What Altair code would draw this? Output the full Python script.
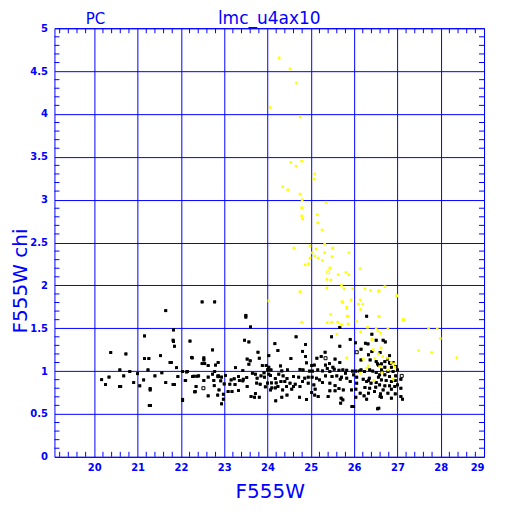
import altair as alt
import pandas as pd
import numpy as np

BLUE = "#0000ff"

# ---- black points (F555W, chi) ----
black_x = [
    21.65, 21.16, 21.83, 21.82, 21.83, 21.85, 20.38, 20.73, 21.16, 21.26, 21.53, 21.75, 21.78,
    20.59, 20.82, 21.00, 21.24, 21.56, 21.90, 22.13, 22.25, 22.21, 22.04, 22.04, 22.33, 22.35,
    22.11, 21.93, 22.27, 22.37, 20.17, 20.34, 20.68, 20.26, 20.58, 20.61, 20.91, 21.05, 21.14,
    21.29, 21.29, 21.40, 21.65, 21.82, 21.85, 21.27, 21.30,
    22.49, 22.78, 23.50, 23.50, 23.61, 23.47, 23.57, 22.73, 23.78, 22.26, 22.53, 22.53, 23.53,
    23.60, 23.81, 22.49, 22.55, 22.80, 22.86, 22.63, 23.57, 23.88, 23.97, 23.26, 22.04, 22.15,
    22.78, 23.43, 23.65, 23.92, 24.01, 22.30, 22.41, 22.63, 22.73, 22.87, 22.94, 23.03, 22.10,
    22.53, 22.76, 22.92, 23.16, 23.23, 23.33, 23.35, 23.44, 23.52, 23.72, 23.76, 23.85, 23.93,
    24.03, 22.77, 23.13, 23.00, 23.25, 23.43, 23.53, 23.75, 23.83, 23.95, 24.00, 22.32, 22.88,
    23.09, 23.18, 23.33, 22.63, 22.85, 22.98, 23.62, 23.70, 23.81, 23.72, 22.98, 22.94,
    25.67, 24.66, 25.48, 24.17, 24.88, 25.67, 24.24, 24.81, 25.33, 24.03, 24.54, 24.88, 25.24,
    25.14, 25.56, 25.67, 25.43, 24.90, 25.02, 25.08, 25.34, 25.51, 24.30, 24.03, 24.01, 24.08,
    24.33, 24.46, 24.75, 24.82, 24.97, 25.04, 25.16, 25.27, 25.38, 25.44, 25.54, 25.65, 24.07,
    24.18, 24.26, 24.36, 24.45, 24.60, 24.72, 24.86, 24.94, 25.03, 25.13, 25.20, 25.34, 25.49,
    25.60, 25.68, 24.09, 24.20, 24.31, 24.40, 24.52, 24.64, 24.81, 24.94, 25.07, 25.27, 25.44,
    25.56, 24.10, 24.18, 24.24, 24.44, 24.60, 24.75, 24.07, 24.35, 24.56, 25.10, 25.44, 25.56,
    25.65, 25.02, 25.09, 25.17, 24.33, 24.45, 24.74, 24.90, 24.19, 25.40, 25.70, 25.69,
    26.29, 25.91, 26.03, 26.26, 26.32, 26.41, 26.51, 26.16, 26.41, 26.33, 26.60, 26.16, 26.37,
    26.51, 26.56, 25.74, 25.83, 25.96, 26.04, 26.12, 26.16, 26.24, 26.36, 26.43, 25.80, 25.99,
    26.51, 25.71, 25.83, 26.06, 26.21, 26.35, 26.56, 25.91, 26.06, 26.29, 26.33, 26.39, 26.51,
    25.75, 25.94, 26.04, 26.25, 26.36, 26.50, 26.14, 26.33, 26.47, 25.74, 26.04, 26.23, 26.29,
    26.60, 25.99, 26.54, 25.95,
    26.67, 26.72, 26.82, 26.77, 26.71, 26.63, 26.82, 26.90, 26.71, 26.86, 26.96, 27.00, 26.63,
    26.78, 26.90, 26.59, 26.71, 26.82, 26.96, 27.08, 26.63, 26.74, 26.86, 26.95, 26.59, 26.71,
    26.82, 26.94, 27.00, 26.67, 26.86, 27.08, 26.61, 26.78, 26.95, 27.08, 27.12, 26.57, 26.63,
    26.86, 26.54, 26.64, 26.83,
]
black_y = [
    1.705, 1.41, 1.48, 1.36, 1.345, 1.29, 1.216, 1.20, 1.146, 1.146, 1.18, 1.10, 1.10,
    1.014, 0.995, 0.97, 1.014, 0.98, 1.04, 0.99, 1.16, 1.35, 0.656, 0.67, 0.76, 0.82,
    0.889, 0.936, 0.936, 0.94, 0.90, 0.93, 0.944, 0.843, 0.82, 0.82, 0.866, 0.828, 0.897,
    0.796, 0.78, 0.944, 0.866, 0.843, 0.843, 0.598, 0.598,
    1.807, 1.807, 1.65, 1.63, 1.515, 1.36, 1.34, 1.247, 1.22, 1.154, 1.154, 1.13, 1.14,
    1.12, 1.15, 1.087, 1.087, 1.07, 1.10, 1.064, 1.08, 1.064, 1.064, 1.04, 0.995, 0.995,
    0.995, 1.006, 0.975, 0.98, 1.02, 0.94, 0.944, 0.93, 0.964, 0.94, 0.93, 0.95, 0.89,
    0.89, 0.89, 0.886, 0.897, 0.91, 0.936, 0.89, 0.905, 0.925, 0.964, 0.917, 0.944, 0.929,
    0.964, 0.83, 0.847, 0.85, 0.843, 0.886, 0.82, 0.86, 0.847, 0.816, 0.86, 0.758, 0.78,
    0.761, 0.761, 0.773, 0.711, 0.72, 0.73, 0.703, 0.695, 0.695, 0.738, 0.672, 0.618,
    1.51, 1.40, 1.40, 1.32, 1.31, 1.29, 1.24, 1.23, 1.22, 1.18, 1.146, 1.17, 1.17,
    1.15, 1.14, 1.10, 1.087, 1.096, 1.064, 1.07, 1.07, 1.045, 1.06, 1.045, 1.014, 1.014,
    1.002, 1.014, 1.02, 1.014, 1.00, 1.00, 1.014, 1.002, 1.03, 0.995, 1.022, 1.01, 0.948,
    0.913, 0.964, 0.944, 0.913, 0.936, 0.929, 0.917, 0.929, 0.929, 0.917, 0.897, 0.944, 0.936,
    0.944, 0.905, 0.862, 0.862, 0.878, 0.878, 0.859, 0.847, 0.878, 0.859, 0.839, 0.866, 0.859,
    0.83, 0.804, 0.804, 0.82, 0.82, 0.82, 0.82, 0.78, 0.78, 0.789, 0.789, 0.77, 0.77,
    0.796, 0.75, 0.72, 0.703, 0.695, 0.72, 0.695, 0.668, 0.653, 0.703, 0.684, 0.626,
    1.64, 1.37, 1.33, 1.325, 1.317, 1.43, 1.36, 1.255, 1.227, 1.19, 1.216, 1.13, 1.13,
    1.11, 1.07, 1.014, 1.01, 1.00, 1.00, 1.00, 1.014, 0.995, 1.014, 1.00, 0.975, 0.956,
    0.983, 0.929, 0.917, 0.929, 0.905, 0.917, 0.929, 0.878, 0.859, 0.878, 0.89, 0.859, 0.866,
    0.78, 0.78, 0.789, 0.808, 0.80, 0.812, 0.742, 0.742, 0.761, 0.664, 0.695, 0.711, 0.672,
    0.703, 0.586, 0.56, 0.586,
    1.36, 1.34, 1.18, 1.14, 1.11, 1.084, 1.10, 1.10, 1.045, 1.045, 1.052, 1.014, 1.014,
    0.995, 0.995, 0.956, 0.956, 0.936, 0.944, 0.905, 0.897, 0.889, 0.878, 0.889, 0.839, 0.828,
    0.828, 0.82, 0.839, 0.78, 0.789, 0.80, 0.734, 0.742, 0.734, 0.703, 0.672, 0.567, 0.695,
    0.684, 1.084, 0.99, 1.09,
]

# ---- yellow points ----
yellow_x = [
    24.27, 24.52, 24.67, 24.06, 24.75, 24.54, 24.79, 24.66, 25.09, 25.07, 24.35, 24.47, 24.75,
    24.80, 25.35, 24.79, 24.79, 24.81, 25.15, 25.16, 25.26, 24.61, 24.98, 25.12, 25.32, 25.51,
    25.88, 25.04, 25.32, 24.98, 25.09, 25.17, 25.27, 25.49, 24.87, 24.95, 25.44, 26.14, 25.63,
    25.81, 25.88, 25.37, 25.46, 25.71, 25.77, 25.37, 25.97, 26.25, 26.38, 26.58, 26.71, 26.98,
    24.75, 24.03, 25.74, 25.93, 26.14, 26.20, 25.83, 26.15, 25.46, 25.86, 26.58, 27.14, 25.50,
    24.79, 25.38, 25.48, 25.62, 25.70, 25.60, 25.72, 25.83, 26.10, 26.56, 25.84, 25.71, 25.86,
    26.05, 26.31, 26.51, 26.15, 26.41, 26.44, 25.83, 26.21, 26.48, 26.56, 26.33, 26.29, 26.46,
    26.14, 26.99, 26.57, 27.13, 26.78, 26.61, 26.62, 26.66, 26.77, 26.86, 26.92, 26.94, 26.90,
    26.78, 26.59, 27.72, 27.92, 27.99, 27.49, 27.79, 28.37, 26.55, 26.64,
]
yellow_y = [
    4.654, 4.526, 4.36, 4.076, 3.966, 3.435, 3.45, 3.39, 3.30, 3.24, 3.15, 3.115, 3.065,
    3.00, 2.97, 2.906, 2.81, 2.774, 2.824, 2.73, 2.646, 2.436, 2.46, 2.424, 2.48, 2.436,
    2.38, 2.38, 2.38, 2.32, 2.343, 2.32, 2.288, 2.334, 2.24, 2.253, 2.203, 2.195, 2.125,
    2.15, 2.125, 2.07, 2.063, 2.00, 1.96, 1.97, 1.96, 1.96, 1.94, 1.94, 1.985, 1.876,
    1.927, 1.82, 1.80, 1.83, 1.83, 1.78, 1.73, 1.72, 1.66, 1.64, 1.635, 1.60, 2.43,
    1.57, 1.565, 1.57, 1.57, 1.54, 1.43, 1.81, 1.745, 1.78, 1.93, 1.64, 1.54, 1.55,
    1.58, 1.51, 1.50, 1.46, 1.37, 1.25, 1.154, 1.14, 1.146, 1.20, 1.06, 1.034, 0.889,
    0.975, 1.88, 1.635, 1.60, 1.495, 1.44, 1.27, 1.17, 1.15, 1.10, 1.084, 1.045, 0.905,
    1.014, 1.052, 1.50, 1.495, 1.38, 1.24, 1.216, 1.157, 1.47, 0.98,
]

# ---- open (hollow) markers ----
hollow_x = [22.52, 22.86, 25.34, 26.06, 27.10]
hollow_y = [0.80, 0.94, 1.15, 1.22, 0.944]
hollow_yellow_x = [25.40]
hollow_yellow_y = [2.153]

x_ticks = list(range(20, 30))
y_ticks = [0, 0.5, 1, 1.5, 2, 2.5, 3, 3.5, 4, 4.5, 5]
x_minor = [round(v, 1) for v in np.arange(19.2, 29.0, 0.2) if abs(v - round(v)) > 1e-6]
y_minor = [round(v, 1) for v in np.arange(0.1, 5.0, 0.1) if abs(v * 2 - round(v * 2)) > 1e-6]

W, H = 430, 429

xscale = alt.Scale(domain=[19.08, 29], nice=False, zero=False)
yscale = alt.Scale(domain=[0, 5], nice=False, zero=False)

xaxis = alt.Axis(values=x_ticks, title=None, grid=True, ticks=False, domain=False,
                 labelPadding=6, format="d")
yaxis = alt.Axis(values=y_ticks, title=None, grid=True, ticks=False, domain=False,
                 labelPadding=7, format="~g")

df_black = pd.DataFrame({"x": black_x, "y": black_y})
df_yellow = pd.DataFrame({"x": yellow_x, "y": yellow_y})
df_hollow = pd.DataFrame({"x": hollow_x, "y": hollow_y})
df_hollow_y = pd.DataFrame({"x": hollow_yellow_x, "y": hollow_yellow_y})

black = alt.Chart(df_black).mark_square(size=8, color="black", opacity=1).encode(
    x=alt.X("x:Q", scale=xscale, axis=xaxis),
    y=alt.Y("y:Q", scale=yscale, axis=yaxis),
)
yellow = alt.Chart(df_yellow).mark_square(size=7, color="#ffff00", opacity=1).encode(
    x=alt.X("x:Q", scale=xscale), y=alt.Y("y:Q", scale=yscale)
)
hollow = alt.Chart(df_hollow).mark_square(size=9, filled=False, color="black", strokeWidth=1, opacity=1).encode(
    x=alt.X("x:Q", scale=xscale), y=alt.Y("y:Q", scale=yscale)
)
hollow_yl = alt.Chart(df_hollow_y).mark_square(size=9, filled=False, color="#ffff00", strokeWidth=1, opacity=1).encode(
    x=alt.X("x:Q", scale=xscale), y=alt.Y("y:Q", scale=yscale)
)

dfx = pd.DataFrame({"x": x_minor})
dfy = pd.DataFrame({"y": y_minor})
tick_b = alt.Chart(dfx).mark_rule(color=BLUE, strokeWidth=1).encode(
    x=alt.X("x:Q", scale=xscale), y=alt.value(H), y2=alt.value(H - 5))
tick_t = alt.Chart(dfx).mark_rule(color=BLUE, strokeWidth=1).encode(
    x=alt.X("x:Q", scale=xscale), y=alt.value(0), y2=alt.value(5))
tick_l = alt.Chart(dfy).mark_rule(color=BLUE, strokeWidth=1).encode(
    y=alt.Y("y:Q", scale=yscale), x=alt.value(0), x2=alt.value(5))
tick_r = alt.Chart(dfy).mark_rule(color=BLUE, strokeWidth=1).encode(
    y=alt.Y("y:Q", scale=yscale), x=alt.value(W), x2=alt.value(W - 5))

def label(txt, x, y, size, angle=0, baseline="alphabetic"):
    return alt.Chart(pd.DataFrame({"t": [txt]})).mark_text(
        font="DejaVu Sans", fontSize=size, color=BLUE, angle=angle,
        align="center", baseline=baseline,
    ).encode(x=alt.value(x), y=alt.value(y), text="t:N")

title = label("lmc_u4ax10", 215, -4.5, 17)
pc = label("PC", 41, -4.5, 15)
xtitle = label("F555W", 216, H + 41, 20)
ytitle = label("F555W chi", -33, 253, 20, angle=270, baseline="middle")

chart = alt.layer(
    black, tick_b, tick_t, tick_l, tick_r, black, yellow, hollow, hollow_yl,
    title, pc, xtitle, ytitle,
).properties(
    width=W, height=H,
    autosize=alt.AutoSizeParams(type="none"),
    padding={"left": 46.5, "top": 20, "right": 20, "bottom": 50},
    background="white",
).configure_view(
    stroke=BLUE, strokeWidth=1
).configure_axis(
    labelColor=BLUE, labelFont="DejaVu Sans", labelFontWeight="bold", labelFontSize=10,
    gridColor=BLUE, gridOpacity=1, gridWidth=1,
)

chart.save("out.html", embed_options={"renderer": "svg", "actions": False})
